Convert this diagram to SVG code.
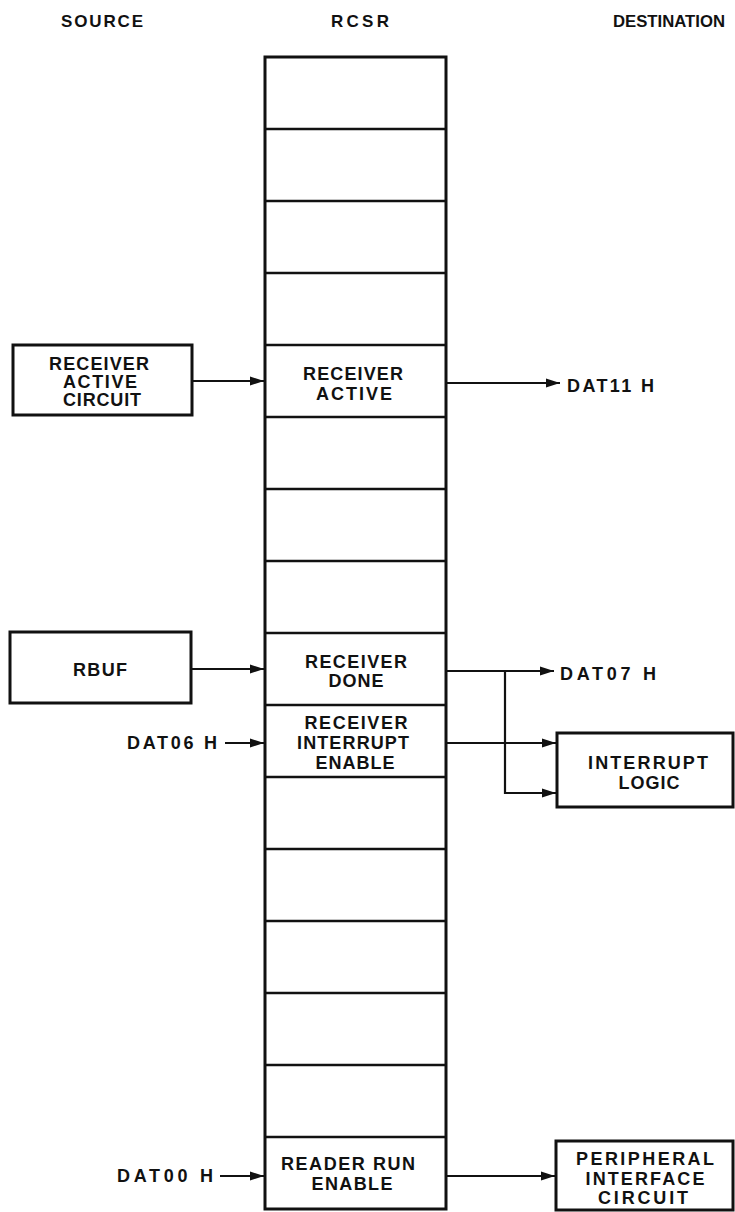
<svg xmlns="http://www.w3.org/2000/svg" width="735" height="1212" viewBox="0 0 735 1212">
<defs>
<marker id="ah" markerUnits="userSpaceOnUse" markerWidth="15" markerHeight="12" refX="14" refY="6" orient="auto">
<path d="M0,1.5 L14,6 L0,10.5 Z" fill="#111"/>
</marker>
<style>
text{font-family:"Liberation Sans",Arial,sans-serif;font-size:18px;font-weight:700;fill:#111;text-anchor:middle}
.h{font-size:17px}
.s{text-anchor:start}
.box{fill:#fff;stroke:#111;stroke-width:3}
.cell{stroke:#111;stroke-width:2.5;fill:none}
.con{stroke:#111;stroke-width:2.2;fill:none}
</style>
</defs>
<rect width="735" height="1212" fill="#fff"/>
<g id="headers">
<text class="h" x="102" y="27" textLength="82" lengthAdjust="spacing">SOURCE</text>
<text class="h" x="360" y="27" textLength="58" lengthAdjust="spacing">RCSR</text>
<text class="h" x="669" y="27" textLength="112" lengthAdjust="spacingAndGlyphs">DESTINATION</text>
</g>
<g id="rcsr">
<rect class="box" x="265" y="57" width="181" height="1152"/>
<path class="cell" d="M265,129H446M265,201H446M265,273H446M265,345H446M265,417H446M265,489H446M265,561H446M265,633H446M265,705H446M265,777H446M265,849H446M265,921H446M265,993H446M265,1065H446M265,1137H446"/>
<text x="353" y="380" textLength="100" lengthAdjust="spacing">RECEIVER</text>
<text x="354" y="400" textLength="76" lengthAdjust="spacing">ACTIVE</text>
<text x="356" y="668" textLength="102" lengthAdjust="spacing">RECEIVER</text>
<text x="356" y="687" textLength="55" lengthAdjust="spacing">DONE</text>
<text x="356" y="729" textLength="103" lengthAdjust="spacing">RECEIVER</text>
<text x="353" y="749" textLength="112" lengthAdjust="spacing">INTERRUPT</text>
<text x="355" y="769" textLength="79" lengthAdjust="spacing">ENABLE</text>
<text x="348" y="1170" textLength="134" lengthAdjust="spacing">READER RUN</text>
<text x="352" y="1190" textLength="81" lengthAdjust="spacing">ENABLE</text>
</g>
<g id="receiver-active-circuit">
<rect class="box" x="13" y="345" width="179" height="70"/>
<text x="99" y="370" textLength="100" lengthAdjust="spacing">RECEIVER</text>
<text x="100" y="388" textLength="74" lengthAdjust="spacing">ACTIVE</text>
<text x="102" y="406" textLength="78" lengthAdjust="spacing">CIRCUIT</text>
</g>
<g id="rbuf">
<rect class="box" x="10" y="632" width="181" height="71"/>
<text x="100" y="676" textLength="54" lengthAdjust="spacing">RBUF</text>
</g>
<g id="dat06">
<text class="s" x="127" y="749" textLength="90" lengthAdjust="spacing">DAT06 H</text>
</g>
<g id="dat00">
<text class="s" x="117" y="1182" textLength="96" lengthAdjust="spacing">DAT00 H</text>
</g>
<g id="dat11">
<text class="s" x="567" y="392" textLength="87" lengthAdjust="spacing">DAT11 H</text>
</g>
<g id="dat07">
<text class="s" x="560" y="680" textLength="96" lengthAdjust="spacing">DAT07 H</text>
</g>
<g id="interrupt-logic">
<rect class="box" x="557" y="733" width="176" height="74"/>
<text x="648" y="769" textLength="120" lengthAdjust="spacing">INTERRUPT</text>
<text x="649" y="789" textLength="61" lengthAdjust="spacing">LOGIC</text>
</g>
<g id="peripheral-interface-circuit">
<rect class="box" x="556" y="1141" width="177" height="69"/>
<text x="645" y="1165" textLength="138" lengthAdjust="spacing">PERIPHERAL</text>
<text x="645" y="1185" textLength="119" lengthAdjust="spacing">INTERFACE</text>
<text x="643" y="1204" textLength="90" lengthAdjust="spacing">CIRCUIT</text>
</g>
<g id="connectors">
<line class="con" x1="192" y1="381" x2="264" y2="381" marker-end="url(#ah)"/>
<line class="con" x1="446" y1="383" x2="560" y2="383" marker-end="url(#ah)"/>
<line class="con" x1="191" y1="669" x2="264" y2="669" marker-end="url(#ah)"/>
<line class="con" x1="446" y1="671" x2="554" y2="671" marker-end="url(#ah)"/>
<path class="con" d="M505,671V793H556" marker-end="url(#ah)"/>
<line class="con" x1="225" y1="743" x2="264" y2="743" marker-end="url(#ah)"/>
<line class="con" x1="446" y1="743" x2="556" y2="743" marker-end="url(#ah)"/>
<line class="con" x1="220" y1="1176" x2="264" y2="1176" marker-end="url(#ah)"/>
<line class="con" x1="446" y1="1176" x2="555" y2="1176" marker-end="url(#ah)"/>
</g>
</svg>
